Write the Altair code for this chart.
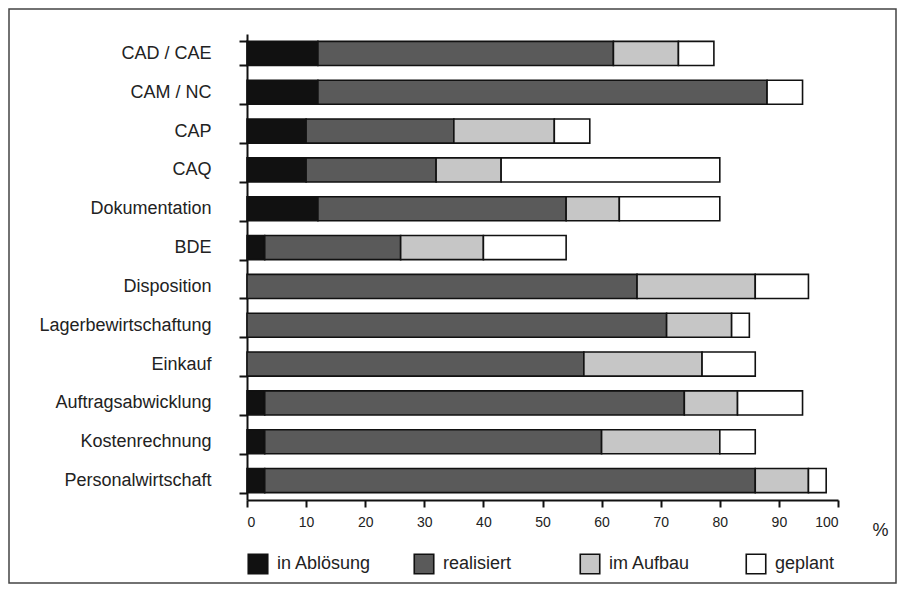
import altair as alt
import pandas as pd

categories = ["CAD / CAE", "CAM / NC", "CAP", "CAQ", "Dokumentation", "BDE",
              "Disposition", "Lagerbewirtschaftung", "Einkauf",
              "Auftragsabwicklung", "Kostenrechnung", "Personalwirtschaft"]
in_abloesung = [12, 12, 10, 10, 12, 3, 0, 0, 0, 3, 3, 3]
realisiert   = [50, 76, 25, 22, 42, 23, 66, 71, 57, 71, 57, 83]
im_aufbau    = [11, 0, 17, 11, 9, 14, 20, 11, 20, 9, 20, 9]
geplant      = [6, 6, 6, 37, 17, 14, 9, 3, 9, 11, 6, 3]

series = ["in Ablösung", "realisiert", "im Aufbau", "geplant"]
colors = ["#111111", "#5a5a5a", "#c6c6c6", "#ffffff"]
x_ticks = [0, 10, 20, 30, 40, 50, 60, 70, 80, 90, 100]

rows = []
for i, c in enumerate(categories):
    for k, (s, vals) in enumerate(zip(series, [in_abloesung, realisiert, im_aufbau, geplant])):
        rows.append({"Bereich": c, "Status": s, "Wert": vals[i], "order": k})
df = pd.DataFrame(rows)

FONT = "Liberation Sans, Arial, Helvetica, sans-serif"

bars = alt.Chart(df).transform_filter("datum.Wert > 0").mark_bar(
    stroke="#111111", strokeWidth=1.6
).encode(
    y=alt.Y("Bereich:N", sort=categories,
            scale=alt.Scale(paddingInner=0.38, paddingOuter=0.19),
            axis=alt.Axis(title=None, tickBand="extent", tickSize=8, tickWidth=2,
                          tickColor="#111111", domainColor="#111111", domainWidth=2,
                          labelFontSize=18, labelFont=FONT, labelColor="#222222",
                          labelPadding=28, labelLimit=300)),
    x=alt.X("Wert:Q", stack="zero",
            scale=alt.Scale(domain=[0, 100], nice=False),
            axis=alt.Axis(title="%", values=x_ticks, format="d", tickSize=7, tickWidth=2,
                          tickColor="#111111", domainColor="#111111", domainWidth=2,
                          labelFontSize=14, labelFont=FONT, labelColor="#222222",
                          labelPadding=8, grid=False,
                          titleFont=FONT, titleFontSize=18, titleFontWeight="normal",
                          titleColor="#222222", titleX=633, titleY=30,
                          titleAlign="center", titleBaseline="middle")),
    color=alt.Color("Status:N", sort=series,
                    scale=alt.Scale(domain=series, range=colors),
                    legend=alt.Legend(title=None, orient="none", legendX=0, legendY=519,
                                      direction="horizontal", columns=4, gridAlign="all",
                                      columnPadding=39, symbolType="square", symbolSize=380,
                                      symbolStrokeColor="#111111", symbolStrokeWidth=1.6,
                                      labelFontSize=18, labelFont=FONT, labelColor="#222222",
                                      labelOffset=8, labelLimit=300)),
    order=alt.Order("order:Q")
)

frame = alt.Chart(pd.DataFrame({"a": [0]})).mark_rect(
    fill="transparent", stroke="#444444", strokeWidth=1.5
).encode(
    x=alt.value(-238), x2=alt.value(649), y=alt.value(-25), y2=alt.value(549)
)

chart = alt.layer(frame, bars).properties(
    width=591, height=466,
    autosize=alt.AutoSizeParams(type="none"),
    padding={"left": 239, "top": 26, "right": 60, "bottom": 84}
).configure_view(stroke=None)

chart.save("out.html", embed_options={"renderer": "svg", "actions": False})
